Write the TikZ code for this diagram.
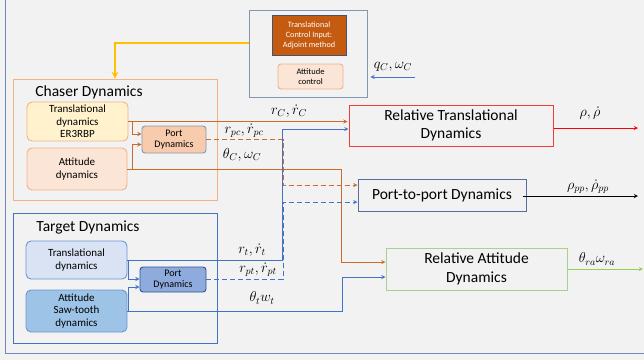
\documentclass[tikz,border=0pt]{standalone}
\usepackage{amsmath,amssymb}
\usepackage{fontspec}
\setmainfont{Carlito}
\usepackage{xcolor}
\usetikzlibrary{shapes,arrows,positioning}

\definecolor{bggray}{HTML}{F2F2F2}
\definecolor{framebl}{HTML}{7088BC}
\definecolor{slate}{HTML}{8497B0}
\definecolor{darkslate}{HTML}{44546A}
\definecolor{rust}{HTML}{C55A11}
\definecolor{peach}{HTML}{F8CBAD}
\definecolor{peachdk}{HTML}{F4B183}
\definecolor{peachlt}{HTML}{FBE5D6}
\definecolor{cream}{HTML}{FFF2CC}
\definecolor{sig}{HTML}{C96A2E}
\definecolor{blsig}{HTML}{4472C4}
\definecolor{bllt}{HTML}{DAE3F3}
\definecolor{blmid}{HTML}{9DC3E6}
\definecolor{blport}{HTML}{8FAADC}
\definecolor{bldk}{HTML}{2F5597}
\definecolor{bledge}{HTML}{6C95D8}
\definecolor{gold}{HTML}{FFC000}
\definecolor{redbox}{HTML}{F23B3B}
\definecolor{greenbox}{HTML}{A9D18E}
\definecolor{greensig}{HTML}{92D050}
\definecolor{p2pedge}{HTML}{5A6E9E}

\begin{document}
\begin{tikzpicture}[x=1pt, y=-1pt]
  % Styles
  \tikzset{
    group/.style={rectangle, line width=0.9pt},
    title/.style={font=\fontsize{15.5}{18}\selectfont},
    dynbox/.style={rectangle, rounded corners=5pt, line width=0.9pt, align=center,
      inner sep=0pt, font=\fontsize{11}{12.5}\selectfont},
    portbox/.style={rectangle, rounded corners=3pt, line width=0.9pt, align=center,
      inner sep=0pt, font=\fontsize{10}{11.5}\selectfont},
    relbox/.style={rectangle, line width=1pt, align=center, inner sep=0pt,
      font=\fontsize{15.5}{18.5}\selectfont},
    sigl/.style={inner sep=0pt, font=\fontsize{14}{16}\selectfont},
    arrow/.style={->, >=stealth, line width=0.9pt},
    orarrow/.style={arrow, draw=sig},
    blarrow/.style={arrow, draw=blsig},
    sigdash/.style={dash pattern=on 5pt off 3pt}
  }

  % Background and frame
  \fill[bggray] (0,0) rectangle (644,360);
  \useasboundingbox (0,0) rectangle (644,360);
  \draw[framebl, line width=0.9pt] (5,0) -- (5,353) -- (644,353);

  % Control block
  \node[group, draw=slate, minimum width=118pt, minimum height=87pt] (ctrl) at (308,53.5) {};
  \node[rectangle, draw=darkslate, fill=rust, text=white, align=center, inner sep=0pt,
    minimum width=74pt, minimum height=40pt, font=\fontsize{8.2}{10}\selectfont]
    (adjoint) at (309,35) {Translational\\Control Input:\\Adjoint method};
  \node[portbox, draw=peachdk, fill=peachlt, minimum width=65pt, minimum height=25pt,
    font=\fontsize{8.5}{10.5}\selectfont] (attctrl) at (310.5,76.5) {Attitude\\control};

  % Chaser Dynamics
  \node[group, draw=peachdk, minimum width=204pt, minimum height=121pt] (chaser) at (115,139.5) {};
  \node[title] (chasert) at (89,92) {Chaser Dynamics};
  \node[dynbox, draw=peachdk, fill=cream, minimum width=101pt, minimum height=39pt]
    (ctrans) at (77.5,121.5) {Translational\\dynamics\\ER3RBP};
  \node[dynbox, draw=peachdk, fill=peachlt, minimum width=100pt, minimum height=42pt]
    (catt) at (77,169) {Attitude\\dynamics};
  \node[portbox, draw=slate, fill=peach, minimum width=64pt, minimum height=27pt]
    (cport) at (174,139.5) {Port\\Dynamics};

  % Target Dynamics
  \node[group, draw=blsig, minimum width=204pt, minimum height=130pt] (target) at (115,278) {};
  \node[title] (targett) at (88,227) {Target Dynamics};
  \node[dynbox, draw=bledge, fill=bllt, minimum width=101pt, minimum height=38pt]
    (ttrans) at (76.5,260) {Translational\\dynamics};
  \node[dynbox, draw=bledge, fill=blmid, minimum width=101pt, minimum height=42pt]
    (tatt) at (76.5,311) {Attitude\\Saw-tooth\\dynamics};
  \node[portbox, draw=bldk, fill=blport, minimum width=66pt, minimum height=25pt]
    (tport) at (173,279.5) {Port\\Dynamics};

  % Relative dynamics
  \node[relbox, draw=redbox, minimum width=204pt, minimum height=41pt]
    (reltrans) at (451,125.5) {Relative Translational\\Dynamics};
  \node[relbox, draw=p2pedge, minimum width=168pt, minimum height=32pt]
    (p2p) at (442,195) {Port-to-port Dynamics};
  \node[relbox, draw=greenbox, minimum width=181pt, minimum height=42pt]
    (relatt) at (476.5,269) {Relative Attitude\\Dynamics};

  % Bend points and free ends
  \coordinate (qin) at (415,77);
  \coordinate (obend) at (341,0);
  \coordinate (pbend) at (283,0);
  \coordinate (bbend) at (282,0);
  \coordinate (abend) at (342,0);
  \coordinate (rhoout) at (638,128);
  \coordinate (ppout) at (638,196);
  \coordinate (raout) at (643,269);

  % Control input
  \draw[gold, line width=2pt, ->, >=stealth] ([yshift=10.5pt]ctrl.west) -| (chaser.north);
  \draw[blarrow] (qin) -- ([xshift=3pt]qin -| ctrl.east);
  \node[sigl] (qlab) at (393,67) {$q_C, \omega_C$};

  % Chaser signals
  \draw[orarrow] (ctrans.east) -- ([xshift=-1pt]ctrans.east -| reltrans.west);
  \draw[orarrow] ([xshift=4pt]ctrans.east) |- ([yshift=5.5pt]cport.west);
  \draw[orarrow] (catt.east) -- (catt.east -| obend) |- ([yshift=7pt]relatt.west);
  \draw[orarrow] ([xshift=5pt]catt.east) |- ([yshift=-5pt]cport.west);
  \draw[orarrow, sigdash] (cport.east) -- (cport.east -| pbend) |- ([yshift=10pt]p2p.west);
  \node[sigl] (rclab) at (289,111) {$r_C, \dot r_C$};
  \node[sigl] (rpclab) at (244,131) {$r_{pc}, \dot r_{pc}$};
  \node[sigl] (thclab) at (242,155) {$\theta_C, \omega_C$};

  % Target signals
  \draw[blarrow] (ttrans.east) -- (ttrans.east -| bbend) |- ([yshift=-3.5pt]reltrans.west);
  \draw[blarrow] ([xshift=1pt]ttrans.east) |- ([yshift=0.5pt]tport.west);
  \draw[blarrow] (tatt.east) -- (tatt.east -| abend) |- ([yshift=-8pt]relatt.west);
  \draw[blarrow] ([xshift=1pt]tatt.east) |- ([yshift=-7.5pt]tport.west);
  \draw[blarrow, sigdash] (tport.east) -- (tport.east -| pbend) |- ([yshift=-7pt]p2p.west);
  \node[sigl] (rtlab) at (252,250) {$r_t, \dot r_t$};
  \node[sigl] (rptlab) at (258,270) {$r_{pt}, \dot r_{pt}$};
  \node[sigl] (thtlab) at (262,298) {$\theta_t w_t$};

  % Outputs
  \draw[arrow, red] (reltrans.east |- rhoout) -- (rhoout);
  \draw[arrow, black] ([xshift=-4pt]p2p.east |- ppout) -- (ppout);
  \draw[arrow, greensig] (relatt.east |- raout) -- (raout);
  \node[sigl] (rholab) at (590,113) {$\rho, \dot\rho$};
  \node[sigl] (pplab) at (588,187) {$\rho_{pp}, \dot\rho_{pp}$};
  \node[sigl] (ralab) at (597,259) {$\theta_{ra}\omega_{ra}$};

\end{tikzpicture}
\end{document}
